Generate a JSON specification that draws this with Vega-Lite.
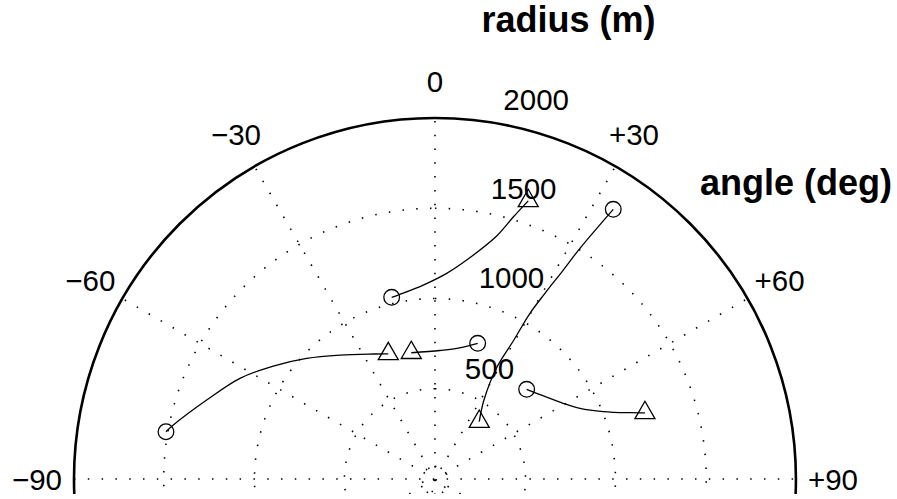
{
  "$schema": "https://vega.github.io/schema/vega-lite/v6.json",
  "width": 897,
  "height": 494,
  "autosize": "none",
  "padding": {"left": 0, "top": 0, "right": 0, "bottom": 5},
  "background": "white",
  "config": {"view": {"stroke": null}, "font": "Liberation Sans"},
  "datasets": {
    "rings": [{"radius": 70}, {"radius": 500}, {"radius": 1000}, {"radius": 1500}],
    "rim": [{"radius": 2000}],
    "spokes": [
      {"angle": -60, "radius": 2000},
      {"angle": -30, "radius": 2000},
      {"angle": 0, "radius": 2000},
      {"angle": 30, "radius": 2000},
      {"angle": 60, "radius": 2000},
      {"angle": 90, "radius": 2000}
    ],
    "tracks": [
      {"track": "A", "seq": 1, "pos": "start", "angle": -13.40, "radius": 1034.8},
      {"track": "A", "seq": 2, "pos": "mid", "angle": -10.73, "radius": 1041.5},
      {"track": "A", "seq": 3, "pos": "mid", "angle": -3.45, "radius": 1076.7},
      {"track": "A", "seq": 4, "pos": "mid", "angle": 3.26, "radius": 1141.4},
      {"track": "A", "seq": 5, "pos": "mid", "angle": 8.24, "radius": 1225.9},
      {"track": "A", "seq": 6, "pos": "mid", "angle": 14.25, "radius": 1389.0},
      {"track": "A", "seq": 7, "pos": "mid", "angle": 16.64, "radius": 1515.0},
      {"track": "A", "seq": 8, "pos": "end", "angle": 18.54, "radius": 1625.6},
      {"track": "B", "seq": 1, "pos": "start", "angle": 33.47, "radius": 1791.2},
      {"track": "B", "seq": 2, "pos": "mid", "angle": 32.15, "radius": 1509.6},
      {"track": "B", "seq": 3, "pos": "mid", "angle": 31.55, "radius": 1358.7},
      {"track": "B", "seq": 4, "pos": "mid", "angle": 30.64, "radius": 1195.7},
      {"track": "B", "seq": 5, "pos": "mid", "angle": 29.83, "radius": 1058.2},
      {"track": "B", "seq": 6, "pos": "mid", "angle": 29.57, "radius": 879.1},
      {"track": "B", "seq": 7, "pos": "mid", "angle": 28.97, "radius": 709.3},
      {"track": "B", "seq": 8, "pos": "mid", "angle": 31.81, "radius": 515.0},
      {"track": "B", "seq": 9, "pos": "end", "angle": 37.61, "radius": 402.1},
      {"track": "C", "seq": 1, "pos": "start", "angle": -80.03, "radius": 1513.2},
      {"track": "C", "seq": 2, "pos": "mid", "angle": -78.34, "radius": 1480.4},
      {"track": "C", "seq": 3, "pos": "mid", "angle": -70.91, "radius": 1338.4},
      {"track": "C", "seq": 4, "pos": "mid", "angle": -62.69, "radius": 1215.9},
      {"track": "C", "seq": 5, "pos": "mid", "angle": -55.05, "radius": 1092.9},
      {"track": "C", "seq": 6, "pos": "mid", "angle": -46.75, "radius": 975.9},
      {"track": "C", "seq": 7, "pos": "mid", "angle": -37.46, "radius": 865.4},
      {"track": "C", "seq": 8, "pos": "mid", "angle": -26.27, "radius": 772.3},
      {"track": "C", "seq": 9, "pos": "end", "angle": -20.47, "radius": 739.8},
      {"track": "D", "seq": 1, "pos": "start", "angle": 17.47, "radius": 788.1},
      {"track": "D", "seq": 2, "pos": "mid", "angle": 9.55, "radius": 734.3},
      {"track": "D", "seq": 3, "pos": "mid", "angle": 2.23, "radius": 712.5},
      {"track": "D", "seq": 4, "pos": "end", "angle": -10.63, "radius": 711.9},
      {"track": "E", "seq": 1, "pos": "start", "angle": 45.63, "radius": 710.7},
      {"track": "E", "seq": 2, "pos": "mid", "angle": 49.88, "radius": 736.8},
      {"track": "E", "seq": 3, "pos": "mid", "angle": 59.46, "radius": 825.3},
      {"track": "E", "seq": 4, "pos": "mid", "angle": 64.00, "radius": 893.7},
      {"track": "E", "seq": 5, "pos": "mid", "angle": 68.15, "radius": 1004.6},
      {"track": "E", "seq": 6, "pos": "mid", "angle": 71.22, "radius": 1141.1},
      {"track": "E", "seq": 7, "pos": "end", "angle": 72.50, "radius": 1219.9}
    ],
    "angleLabels": [
      {"label": "0", "angle": 0, "radius": 2205},
      {"label": "\u221230", "angle": -30, "radius": 2205},
      {"label": "+30", "angle": 30, "radius": 2205},
      {"label": "\u221260", "angle": -60, "radius": 2205},
      {"label": "+60", "angle": 60, "radius": 2205},
      {"label": "\u221290", "angle": -90, "radius": 2205},
      {"label": "+90", "angle": 90, "radius": 2205}
    ],
    "radiusLabels": [
      {"label": "500", "angle": 26.15, "radius": 685.2},
      {"label": "1000", "angle": 20.79, "radius": 1194.1},
      {"label": "1500", "angle": 16.97, "radius": 1683.8},
      {"label": "2000", "angle": 14.94, "radius": 2174.9}
    ],
    "titles": [
      {"label": "radius (m)", "angle": 16.27, "radius": 2641},
      {"label": "angle (deg)", "angle": 50.76, "radius": 2582.4}
    ]
  },
  "layer": [
    {
      "data": {"name": "rings"},
      "mark": {"type": "arc", "theta": 0, "theta2": 6.2832, "filled": false, "stroke": "black", "strokeWidth": 1.6, "strokeDash": [1.5, 12.3], "clip": true},
      "encoding": {
        "x": {"datum": 0, "type": "quantitative", "scale": {"domain": [-2410, 2560], "nice": false, "zero": false}, "axis": null},
        "y": {"datum": 0, "type": "quantitative", "scale": {"domain": [-83, 2654], "nice": false, "zero": false}, "axis": null},
        "radius": {"field": "radius", "type": "quantitative", "stack": null, "scale": {"type": "linear", "domain": [0, 2000], "range": [0, 360.97], "nice": false, "zero": true}}
      }
    },
    {
      "data": {"name": "spokes"},
      "transform": [
        {"calculate": "datum.radius * sin(datum.angle * PI / 180)", "as": "x1"},
        {"calculate": "datum.radius * cos(datum.angle * PI / 180)", "as": "y1"},
        {"calculate": "-datum.x1", "as": "x0"},
        {"calculate": "-datum.y1", "as": "y0"}
      ],
      "mark": {"type": "rule", "stroke": "black", "strokeWidth": 1.6, "strokeDash": [1.5, 12.3], "clip": true},
      "encoding": {
        "x": {"field": "x0", "type": "quantitative", "scale": {"domain": [-2410, 2560], "nice": false, "zero": false}, "axis": null},
        "y": {"field": "y0", "type": "quantitative", "scale": {"domain": [-83, 2654], "nice": false, "zero": false}, "axis": null},
        "x2": {"field": "x1"},
        "y2": {"field": "y1"}
      }
    },
    {
      "data": {"name": "rim"},
      "mark": {"type": "arc", "theta": 0, "theta2": 6.2832, "filled": false, "stroke": "black", "strokeWidth": 2.6, "clip": true},
      "encoding": {
        "x": {"datum": 0, "type": "quantitative", "scale": {"domain": [-2410, 2560], "nice": false, "zero": false}, "axis": null},
        "y": {"datum": 0, "type": "quantitative", "scale": {"domain": [-83, 2654], "nice": false, "zero": false}, "axis": null},
        "radius": {"field": "radius", "type": "quantitative", "stack": null, "scale": {"type": "linear", "domain": [0, 2000], "range": [0, 360.97], "nice": false, "zero": true}}
      }
    },
    {
      "data": {"name": "tracks"},
      "transform": [
        {"calculate": "datum.radius * sin(datum.angle * PI / 180)", "as": "px"},
        {"calculate": "datum.radius * cos(datum.angle * PI / 180)", "as": "py"}
      ],
      "layer": [
        {
          "mark": {"type": "line", "interpolate": "catmull-rom", "stroke": "black", "strokeWidth": 1.3},
          "encoding": {
            "x": {"field": "px", "type": "quantitative", "scale": {"domain": [-2410, 2560], "nice": false, "zero": false}, "axis": null},
            "y": {"field": "py", "type": "quantitative", "scale": {"domain": [-83, 2654], "nice": false, "zero": false}, "axis": null},
            "detail": {"field": "track"},
            "order": {"field": "seq", "type": "quantitative"}
          }
        },
        {
          "transform": [{"filter": "datum.pos === 'start'"}],
          "mark": {"type": "point", "shape": "circle", "size": 246, "filled": false, "stroke": "black", "strokeWidth": 1.3, "opacity": 1},
          "encoding": {
            "x": {"field": "px", "type": "quantitative", "scale": {"domain": [-2410, 2560], "nice": false, "zero": false}, "axis": null},
            "y": {"field": "py", "type": "quantitative", "scale": {"domain": [-83, 2654], "nice": false, "zero": false}, "axis": null}
          }
        },
        {
          "transform": [{"filter": "datum.pos === 'end'"}],
          "mark": {"type": "point", "shape": "M0,-1.1547L1,0.5774L-1,0.5774Z", "size": 400, "filled": false, "stroke": "black", "strokeWidth": 1.3, "opacity": 1},
          "encoding": {
            "x": {"field": "px", "type": "quantitative", "scale": {"domain": [-2410, 2560], "nice": false, "zero": false}, "axis": null},
            "y": {"field": "py", "type": "quantitative", "scale": {"domain": [-83, 2654], "nice": false, "zero": false}, "axis": null}
          }
        }
      ]
    },
    {
      "data": {"name": "angleLabels"},
      "transform": [
        {"calculate": "datum.radius * sin(datum.angle * PI / 180)", "as": "px"},
        {"calculate": "datum.radius * cos(datum.angle * PI / 180)", "as": "py"}
      ],
      "mark": {"type": "text", "align": "center", "baseline": "middle", "fontSize": 29.5, "dy": 1.7, "color": "black"},
      "encoding": {
        "x": {"field": "px", "type": "quantitative", "scale": {"domain": [-2410, 2560], "nice": false, "zero": false}, "axis": null},
        "y": {"field": "py", "type": "quantitative", "scale": {"domain": [-83, 2654], "nice": false, "zero": false}, "axis": null},
        "text": {"field": "label"}
      }
    },
    {
      "data": {"name": "radiusLabels"},
      "transform": [
        {"calculate": "datum.radius * sin(datum.angle * PI / 180)", "as": "px"},
        {"calculate": "datum.radius * cos(datum.angle * PI / 180)", "as": "py"}
      ],
      "mark": {"type": "text", "align": "center", "baseline": "middle", "fontSize": 29.5, "dy": 1.7, "color": "black"},
      "encoding": {
        "x": {"field": "px", "type": "quantitative", "scale": {"domain": [-2410, 2560], "nice": false, "zero": false}, "axis": null},
        "y": {"field": "py", "type": "quantitative", "scale": {"domain": [-83, 2654], "nice": false, "zero": false}, "axis": null},
        "text": {"field": "label"}
      }
    },
    {
      "data": {"name": "titles"},
      "transform": [
        {"calculate": "datum.radius * sin(datum.angle * PI / 180)", "as": "px"},
        {"calculate": "datum.radius * cos(datum.angle * PI / 180)", "as": "py"}
      ],
      "mark": {"type": "text", "align": "center", "baseline": "middle", "fontSize": 36, "fontWeight": "bold", "color": "black"},
      "encoding": {
        "x": {"field": "px", "type": "quantitative", "scale": {"domain": [-2410, 2560], "nice": false, "zero": false}, "axis": null},
        "y": {"field": "py", "type": "quantitative", "scale": {"domain": [-83, 2654], "nice": false, "zero": false}, "axis": null},
        "text": {"field": "label"}
      }
    }
  ]
}
